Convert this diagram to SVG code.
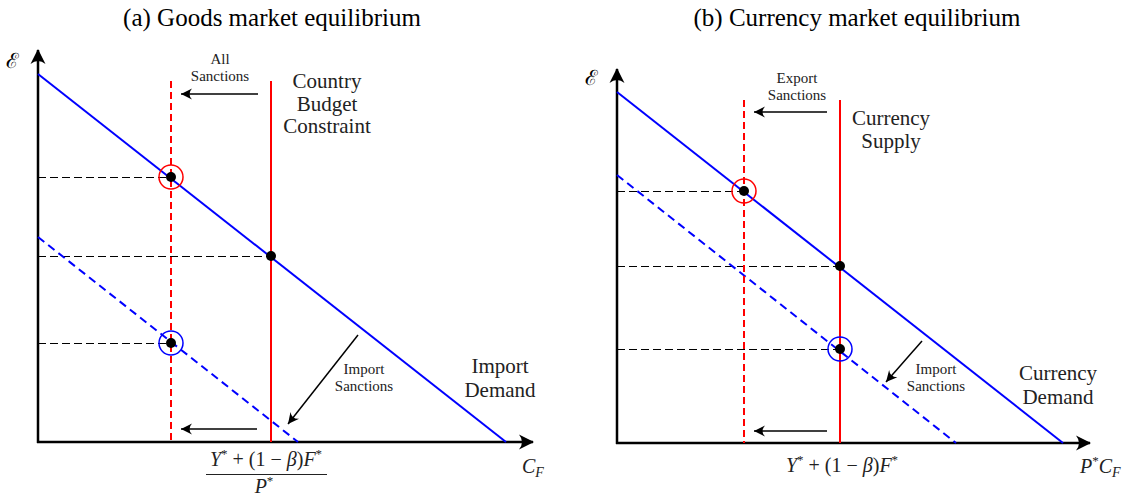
<svg xmlns="http://www.w3.org/2000/svg" width="1135" height="495" viewBox="0 0 1135 495">
<defs>
<style>
.ax{stroke:#000;stroke-width:2.5;fill:none}
.blue{stroke:#0000ff;stroke-width:2;fill:none}
.bdash{stroke:#0000ff;stroke-width:2;stroke-dasharray:8 5;fill:none}
.red{stroke:#ff0000;stroke-width:2;fill:none}
.rdash{stroke:#ff0000;stroke-width:2;stroke-dasharray:7 4;fill:none}
.guide{stroke:#000;stroke-width:1;stroke-dasharray:8 4;fill:none}
.arr{stroke:#000;stroke-width:1.5;fill:none}
.dot{fill:#000}
.title{font-family:"Liberation Serif",serif;font-size:25px;fill:#000;text-anchor:middle}
.lbl{font-family:"Liberation Serif",serif;font-size:21px;fill:#222;text-anchor:middle}
.sm{font-family:"Liberation Serif",serif;font-size:15px;fill:#222;text-anchor:middle}
.math{font-family:"Liberation Serif",serif;font-size:20px;fill:#222}
.it{font-style:italic}
</style>
<marker id="ah" viewBox="-12 -6 13 12" refX="0" refY="0" markerWidth="13" markerHeight="12" orient="auto" markerUnits="userSpaceOnUse">
<path d="M0,0 L-11,-5.5 Q-6,0 -11,5.5 Z" fill="#000"/>
</marker>
<marker id="axh" viewBox="-16 -8 17 16" refX="0" refY="0" markerWidth="17" markerHeight="16" orient="auto" markerUnits="userSpaceOnUse">
<path d="M1,0 L-14,-7.5 Q-8,0 -14,7.5 Z" fill="#000"/>
</marker>
</defs>

<text class="title" x="272" y="26">(a) Goods market equilibrium</text>
<text class="title" x="857" y="26">(b) Currency market equilibrium</text>

<g id="panel-a-axes">
<line class="ax" x1="38" y1="443" x2="38" y2="50" marker-end="url(#axh)"/>
<line class="ax" x1="37" y1="442" x2="533" y2="442" marker-end="url(#axh)"/>
<text x="6" y="68" font-family="DejaVu Serif,serif" font-size="21" fill="#000">ℰ</text>
<text class="math" x="522" y="473"><tspan class="it">C</tspan><tspan class="it" font-size="14" dy="4">F</tspan></text>
</g>

<g id="connectors">
<line class="guide" x1="38" y1="177.5" x2="171" y2="177.5"/>
<line class="guide" x1="38" y1="256.5" x2="271" y2="256.5"/>
<line class="guide" x1="38" y1="343.5" x2="171" y2="343.5"/>
<line class="guide" x1="617" y1="191.5" x2="744" y2="191.5"/>
<line class="guide" x1="617" y1="266.5" x2="840" y2="266.5"/>
<line class="guide" x1="617" y1="349.5" x2="840" y2="349.5"/>
<line class="arr" x1="258" y1="94" x2="181" y2="94" marker-end="url(#ah)"/>
<line class="arr" x1="257" y1="429" x2="181" y2="429" marker-end="url(#ah)"/>
<line class="arr" x1="358" y1="335" x2="288" y2="424" marker-end="url(#ah)"/>
<line class="arr" x1="827" y1="112" x2="754" y2="112" marker-end="url(#ah)"/>
<line class="arr" x1="827" y1="431" x2="754" y2="431" marker-end="url(#ah)"/>
<line class="arr" x1="922" y1="341" x2="886" y2="382" marker-end="url(#ah)"/>
</g>

<g id="a-import-demand">
<line class="blue" x1="38" y1="74" x2="506" y2="442"/>
<text class="lbl" x="500" y="373">Import</text>
<text class="lbl" x="500" y="397">Demand</text>
</g>
<g id="a-import-demand-sanctioned">
<line class="bdash" x1="38" y1="237" x2="298" y2="442"/>
</g>
<g id="a-budget-constraint">
<line class="red" x1="271" y1="81" x2="271" y2="442"/>
<text class="lbl" x="327" y="88">Country</text>
<text class="lbl" x="327" y="111">Budget</text>
<text class="lbl" x="327" y="133">Constraint</text>
</g>
<g id="a-budget-sanctioned">
<line class="rdash" x1="171" y1="81" x2="171" y2="442"/>
</g>
<g id="a-points">
<circle cx="171" cy="177" r="12" fill="none" stroke="#ff0000" stroke-width="1.5"/>
<circle class="dot" cx="171" cy="177" r="5"/>
<circle class="dot" cx="271" cy="256" r="5"/>
<circle cx="171" cy="343" r="12" fill="none" stroke="#0000ff" stroke-width="1.5"/>
<circle class="dot" cx="171" cy="343" r="5"/>
</g>
<g id="a-labels">
<text class="sm" x="220" y="64">All</text>
<text class="sm" x="220" y="81">Sanctions</text>
<text class="sm" x="364" y="374">Import</text>
<text class="sm" x="364" y="391">Sanctions</text>
<text class="math" x="266" y="466" text-anchor="middle"><tspan class="it">Y</tspan><tspan font-size="13" dy="-8">*</tspan><tspan dy="8"> + (1 − </tspan><tspan class="it">β</tspan><tspan>)</tspan><tspan class="it">F</tspan><tspan font-size="13" dy="-8">*</tspan></text>
<line x1="206" y1="474.5" x2="327" y2="474.5" stroke="#222" stroke-width="1"/>
<text class="math" x="264" y="493" text-anchor="middle"><tspan class="it">P</tspan><tspan font-size="13" dy="-8">*</tspan></text>
</g>

<g id="panel-b-axes">
<line class="ax" x1="617" y1="444" x2="617" y2="69" marker-end="url(#axh)"/>
<line class="ax" x1="616" y1="443" x2="1090" y2="443" marker-end="url(#axh)"/>
<text x="585" y="85" font-family="DejaVu Serif,serif" font-size="21" fill="#000">ℰ</text>
<text class="math" x="1080" y="473"><tspan class="it">P</tspan><tspan font-size="13" dy="-8">*</tspan><tspan class="it" dy="8">C</tspan><tspan class="it" font-size="14" dy="4">F</tspan></text>
</g>
<g id="b-currency-demand">
<line class="blue" x1="617" y1="92" x2="1063" y2="443"/>
<text class="lbl" x="1058" y="380">Currency</text>
<text class="lbl" x="1058" y="404">Demand</text>
</g>
<g id="b-currency-demand-sanctioned">
<line class="bdash" x1="617" y1="175" x2="956" y2="443"/>
</g>
<g id="b-currency-supply">
<line class="red" x1="840" y1="100" x2="840" y2="443"/>
<text class="lbl" x="891" y="125">Currency</text>
<text class="lbl" x="891" y="148">Supply</text>
</g>
<g id="b-currency-supply-sanctioned">
<line class="rdash" x1="744" y1="100" x2="744" y2="443"/>
</g>
<g id="b-points">
<circle cx="744" cy="191" r="12" fill="none" stroke="#ff0000" stroke-width="1.5"/>
<circle class="dot" cx="744" cy="191" r="5"/>
<circle class="dot" cx="840" cy="266" r="5"/>
<circle cx="840" cy="349" r="12" fill="none" stroke="#0000ff" stroke-width="1.5"/>
<circle class="dot" cx="840" cy="349" r="5"/>
</g>
<g id="b-labels">
<text class="sm" x="797" y="83">Export</text>
<text class="sm" x="797" y="100">Sanctions</text>
<text class="sm" x="936" y="374">Import</text>
<text class="sm" x="936" y="391">Sanctions</text>
<text class="math" x="842" y="472" text-anchor="middle"><tspan class="it">Y</tspan><tspan font-size="13" dy="-8">*</tspan><tspan dy="8"> + (1 − </tspan><tspan class="it">β</tspan><tspan>)</tspan><tspan class="it">F</tspan><tspan font-size="13" dy="-8">*</tspan></text>
</g>
</svg>
